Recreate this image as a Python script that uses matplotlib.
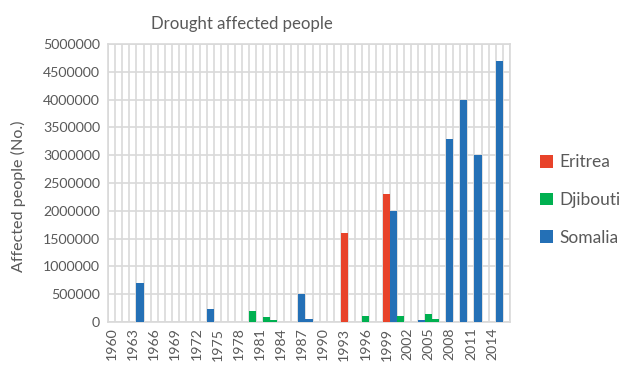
import matplotlib.pyplot as plt
import numpy as np
from matplotlib.patches import Patch

# affected people per drought year (years without an entry are zero)
years = list(range(1960, 2017))
eritrea = {1993: 1600000, 1999: 2300000, 2008: 1700000}
djibouti = {1980: 195000, 1982: 90000, 1983: 40000, 1996: 110000, 2001: 110000,
            2005: 150000, 2006: 50000, 2008: 340000, 2010: 180000}
somalia = {1964: 700000, 1974: 240000, 1987: 500000, 1988: 60000, 2000: 2000000,
           2004: 30000, 2008: 3300000, 2010: 4000000, 2012: 3000000, 2015: 4700000}

series = ["Eritrea", "Djibouti", "Somalia"]
colors = ["#E8432A", "#00B050", "#2470B6"]
grey = "#595959"
gridc = "#D9D9D9"

plt.rcParams['font.family'] = ['Lato', 'DejaVu Sans']

fig = plt.figure(figsize=(6.33, 3.68), dpi=100)
ax = fig.add_axes([0.1711, 0.125, 0.6341, 0.7554])

x = np.arange(len(years))
for name, data, c in zip(series, [eritrea, djibouti, somalia], colors):
    vals = [data.get(y, 0) for y in years]
    # overlapping bars, later series drawn on top
    ax.bar(x, vals, width=1.0, color=c, linewidth=0, zorder=3)

ax.set_xlim(-0.5, len(years) - 0.5)
ax.set_ylim(0, 5000000)
ax.set_yticks(np.arange(0, 5000001, 500000))
ax.set_yticklabels([str(v) for v in range(0, 5000001, 500000)])
ax.set_xticks(x[::3])
ax.set_xticklabels([str(y) for y in years[::3]], rotation=90)
ax.set_xticks(np.arange(-0.5, len(years), 1.0), minor=True)

ax.grid(axis='y', which='major', color=gridc, linewidth=1.2, zorder=0)
ax.grid(axis='x', which='minor', color=gridc, linewidth=1.2, zorder=0)
ax.tick_params(which='both', length=0, labelsize=10.2, labelcolor=grey)
ax.tick_params(axis='y', pad=6)
ax.tick_params(axis='x', pad=4)
for s in ax.spines.values():
    s.set_color(gridc)
    s.set_linewidth(1.2)

fig.text(0.382, 0.936, "Drought affected people", ha='center', va='center',
         fontsize=12.1, color=grey)
fig.text(0.029, 0.467, "Affected people (No.)", ha='center', va='center',
         rotation=90, fontsize=11.6, color=grey)

handles = [Patch(facecolor=c, edgecolor='none') for c in colors]
leg = fig.legend(handles, series, loc='center left', bbox_to_anchor=(0.840, 0.4565),
                 frameon=False, fontsize=12.5, handlelength=0.75, handleheight=0.75,
                 handletextpad=0.35, labelspacing=1.25, borderpad=0)
for t in leg.get_texts():
    t.set_color(grey)

fig.savefig("out.png", dpi=100)
